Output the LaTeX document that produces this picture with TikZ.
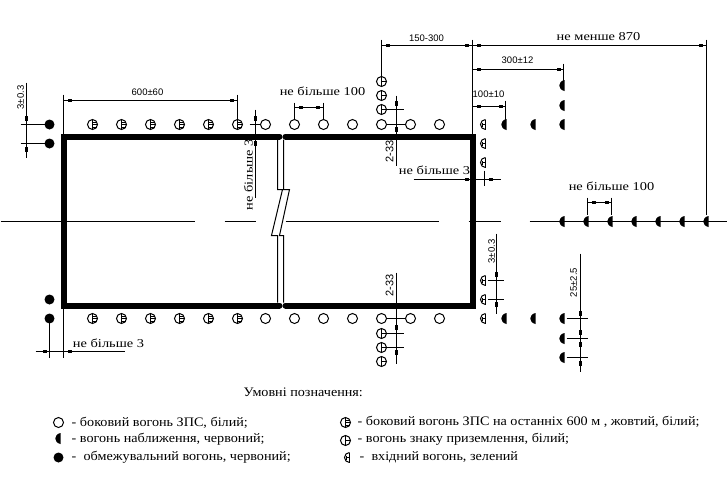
\documentclass[tikz,border=0pt]{standalone}
\usepackage{fontspec}
\setmainfont{Liberation Serif}
\newfontfamily\dimfont{Liberation Sans}
\newfontfamily\cyrfont[FakeStretch=1.2]{Liberation Serif}
\newfontfamily\legfont[FakeStretch=1.09]{Liberation Serif}
\newcounter{lbl}
\tikzset{
  thin line/.style={line width=1pt,black},
  strip/.style={line width=6pt,black,line cap=round},
  lite/.style={line width=1pt,black,fill=white},
  cyrlabel/.style={font=\cyrfont\fontsize{12}{13}\selectfont,inner sep=0pt,text=black},
  dimlabel/.style={font=\dimfont\fontsize{9.5}{10}\selectfont,inner sep=0pt,text=black},
  dimlarge/.style={font=\dimfont\fontsize{11}{12}\selectfont,inner sep=0pt,text=black},
  legend/.style={font=\legfont\fontsize{13}{14}\selectfont,inner sep=0pt,anchor=base west,text=black},
}
% lights
\newcommand\wlight[2]{\draw[lite] (#1,#2) circle (5pt);}
\newcommand\slight[2]{\draw[lite] (#1,#2) circle (5pt);
  \draw[thin line] (#1,#2-5) -- (#1,#2+5)
    (#1,#2-2.5) -- (#1+4.5,#2-2.5) (#1,#2) -- (#1+5,#2) (#1,#2+2.5) -- (#1+4.5,#2+2.5);}
\newcommand\clight[2]{\draw[lite] (#1,#2) circle (5pt);
  \draw[thin line] (#1,#2-5) -- (#1,#2+5) (#1,#2) -- (#1+5,#2);}
\newcommand\glight[2]{\draw[thin line] (#1+3,#2-5) arc (90:270:5pt);
  \draw[thin line] (#1+3,#2-5) -- (#1+3,#2+5) (#1-1,#2) -- (#1+3,#2) (#1,#2-2) -- (#1,#2+2);}
\newcommand\rlight[2]{\fill[black] (#1,#2-5.5) -- (#1,#2+5.5) .. controls (#1-7,#2+4) and (#1-7,#2-4) .. cycle;}
\newcommand\olight[2]{\fill[black] (#1,#2) circle (5pt);}
\newcommand\tick[2]{\fill[black] (#1-2,#2-1.5) rectangle (#1+2,#2+1.5);}
\newcommand\vtick[2]{\fill[black] (#1-1.5,#2-2.5) rectangle (#1+1.5,#2+2.5);}
\newcommand\lab[4][]{\stepcounter{lbl}\node[#1] (lab\arabic{lbl}) at (#2,#3) {#4};}
\begin{document}
\begin{tikzpicture}[x=1pt,y=-1pt]
\useasboundingbox[fill=white] (0,0) rectangle (728,480);
\begin{scope}[shift={(0.5,0.5)}]
% centre line
\draw[thin line] (0,221) -- (194,221) (224,221) -- (255,221) (285,221) -- (438,221)
  (468,221) -- (500,221) (529,221) -- (726,221);
% runway
\draw[strip] (279,136) -- (63,136) -- (63,305) -- (279,305);
\draw[strip] (285,136) -- (472,136) -- (472,305) -- (285,305);
% break
\draw[thin line] (277,139) -- (277,189) -- (282,189) -- (271,235) -- (277,235) -- (277,302);
\draw[thin line] (283,139) -- (283,189) -- (289,189) -- (279,235) -- (283,235) -- (283,302);
% dimension lines
\draw[thin line] (63,94) -- (63,133) (237,94) -- (237,124) (63,100) -- (237,100);
\tick{69}{100}\tick{231}{100}
\draw[thin line] (26,82) -- (26,157) (20,124) -- (49,124) (20,143) -- (49,143);
\vtick{26}{118}\vtick{26}{149}
\draw[thin line] (255,109) -- (255,197) (249,124) -- (265,124);
\vtick{255}{118}\vtick{255}{143}
\draw[thin line] (294,102) -- (294,124) (323,102) -- (323,124) (294,107) -- (323,107);
\tick{300}{107}\tick{317}{107}
\draw[thin line] (381,39) -- (381,81) (472,39) -- (472,134) (706,39) -- (706,214) (381,45) -- (706,45);
\tick{387}{45}\tick{466}{45}\tick{478}{45}\tick{700}{45}
\draw[thin line] (563,63) -- (563,85) (472,69) -- (563,69);
\tick{478}{69}\tick{558}{69}
\draw[thin line] (505,100) -- (505,124) (472,106) -- (505,106);
\tick{478}{106}\tick{500}{106}
\draw[thin line] (396,95) -- (396,165) (381,109) -- (403,109) (381,124) -- (410,124);
\vtick{396}{103}\vtick{396}{129}
\draw[thin line] (413,179) -- (500,179) (484,170) -- (484,185);
\tick{466}{179}\tick{490}{179}
\draw[thin line] (496,233) -- (496,313) (487,280) -- (503,280) (487,299) -- (503,299);
\vtick{496}{274}\vtick{496}{304}
\draw[thin line] (580,253) -- (580,371) (566,318) -- (587,318) (566,338) -- (587,338) (566,357) -- (587,357);
\vtick{580}{313}\vtick{580}{332}\vtick{580}{344}\vtick{580}{363}
\draw[thin line] (396,272) -- (396,363) (381,333) -- (403,333) (381,347) -- (403,347) (381,318) -- (410,318);
\vtick{396}{327}\vtick{396}{352}
\draw[thin line] (35,351) -- (124,351) (49,318) -- (49,357) (63,305) -- (63,357);
\tick{44}{351}\tick{69}{351}
\draw[thin line] (587,197) -- (587,214) (611,197) -- (611,214) (587,202) -- (611,202);
\tick{593}{202}\tick{606}{202}
% lights
\foreach \y in {124,318}{
  \foreach \x in {92,121,150,179,208,237}{\slight{\x}{\y}}
  \foreach \x in {265,294,323,352,381,410,439}{\wlight{\x}{\y}}
  \foreach \x in {506,535,564}{\rlight{\x}{\y}}
}
\foreach \x/\y in {49/124,49/143,49/299,49/318}{\olight{\x}{\y}}
\foreach \y in {124,143,162,280,299,318}{\glight{482}{\y}}
\foreach \y in {85,105,338,357}{\rlight{564}{\y}}
\foreach \x in {564,588,612,636,660,684,708}{\rlight{\x}{221}}
\foreach \y in {81,95,109,333,347,361}{\clight{381}{\y}}
% labels
\lab[dimlabel]{147}{92}{600±60}
\lab[dimlabel,rotate=90]{20}{97}{3±0.3}
\lab[dimlabel]{426}{38}{150-300}
\lab[dimlabel]{517}{60}{300±12}
\lab[dimlabel]{488}{94}{100±10}
\lab[dimlarge,rotate=90]{389}{151}{2-33}
\lab[dimlarge,rotate=90]{389}{285}{2-33}
\lab[dimlabel,rotate=90]{491}{251}{3±0.3}
\lab[dimlabel,rotate=90]{573}{282}{25±2.5}
\lab[cyrlabel]{322}{91}{не більше 100}
\lab[cyrlabel]{598}{36}{не менше 870}
\lab[cyrlabel]{434}{170}{не більше 3}
\lab[cyrlabel]{611}{186}{не більше 100}
\lab[cyrlabel]{108}{343}{не більше 3}
\lab[cyrlabel,rotate=90]{248}{174}{не більше 3}
% legend
\lab[legend]{243}{396}{Умовні позначення:}
\wlight{58}{422}
\rlight{60}{438}
\olight{58}{457}
\slight{345}{422}
\clight{345}{440}
\glight{346}{457}
\lab[legend]{71}{426}{- боковий вогонь ЗПС, білий;}
\lab[legend]{71}{442}{- вогонь наближення, червоний;}
\lab[legend]{71}{460}{-\ \ обмежувальний вогонь, червоний;}
\lab[legend]{357}{425}{- боковий вогонь ЗПС на останніх 600 м , жовтий, білий;}
\lab[legend]{357}{442}{- вогонь знаку приземлення, білий;}
\lab[legend]{359}{460}{-\ \ вхідний вогонь, зелений}
\end{scope}
\end{tikzpicture}
\end{document}
